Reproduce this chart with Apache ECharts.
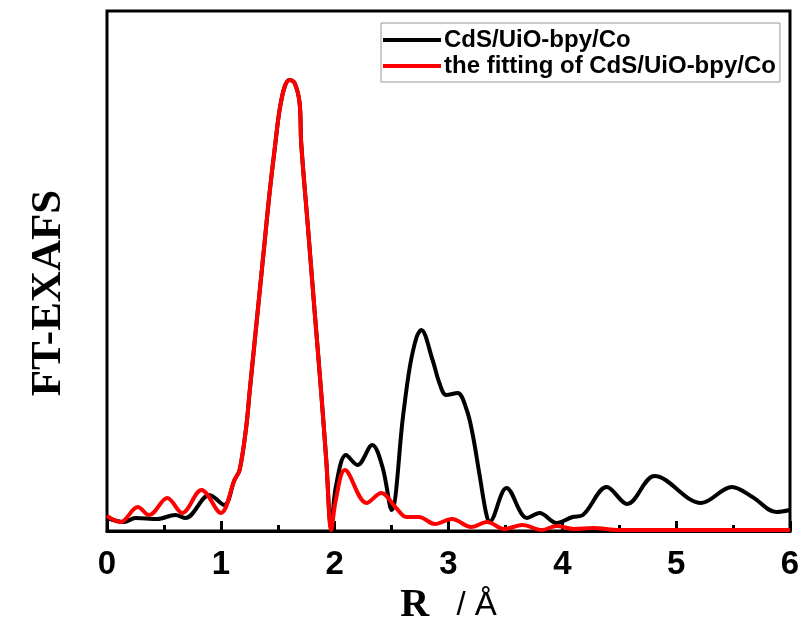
<!DOCTYPE html>
<html>
<head>
<meta charset="utf-8">
<script src="https://cdn.jsdelivr.net/npm/echarts@6/dist/echarts.min.js"></script>
<style>
  html, body { margin: 0; padding: 0; background: #fff; }
  #chart { width: 806px; height: 623px; }
</style>
</head>
<body>
<div id="chart"></div>
<script>
// R (Å) and FT-EXAFS magnitude (arb. units)
const expR = [0, 0.15, 0.25, 0.44, 0.6, 0.69, 0.9, 1.03, 1.12, 1.165, 1.223, 1.252, 1.296, 1.34, 1.384, 1.428, 1.472, 1.516, 1.56, 1.604, 1.648, 1.692, 1.706, 1.765, 1.823, 1.882, 1.926, 1.97,
  2.01, 2.1, 2.2, 2.33, 2.42, 2.5, 2.6, 2.66, 2.72, 2.76, 2.86, 2.92, 2.98, 3.08, 3.16, 3.21, 3.27, 3.33, 3.36, 3.51, 3.69, 3.8, 3.95, 4.09, 4.18, 4.39, 4.57, 4.81, 5.22, 5.49, 5.67, 5.88, 6.0];
const expY = [0.13, 0.09, 0.13, 0.12, 0.16, 0.13, 0.36, 0.26, 0.51, 0.61, 1.04, 1.38, 1.88, 2.38, 2.88, 3.38, 3.81, 4.21, 4.44, 4.51, 4.48, 4.28, 3.88, 3.04, 2.21, 1.38, 0.71, 0.03,
  0.44, 0.76, 0.66, 0.86, 0.64, 0.21, 1.14, 1.64, 1.94, 2.01, 1.71, 1.48, 1.36, 1.38, 1.21, 0.98, 0.58, 0.18, 0.09, 0.43, 0.13, 0.18, 0.08, 0.14, 0.16, 0.44, 0.27, 0.55, 0.28, 0.44, 0.34, 0.19, 0.21];

const fitR = [0, 0.12, 0.27, 0.37, 0.53, 0.66, 0.83, 1.0, 1.12, 1.165, 1.223, 1.252, 1.296, 1.34, 1.384, 1.428, 1.472, 1.516, 1.56, 1.604, 1.648, 1.692, 1.706, 1.765, 1.823, 1.882, 1.926, 1.97,
  2.01, 2.09, 2.28, 2.41, 2.54, 2.63, 2.74, 2.88, 3.03, 3.2, 3.34, 3.49, 3.65, 3.82, 3.95, 4.1, 4.27, 4.5, 5.0, 5.5, 6.0];
const fitY = [0.15, 0.09, 0.24, 0.16, 0.33, 0.18, 0.41, 0.18, 0.51, 0.61, 1.04, 1.38, 1.88, 2.38, 2.88, 3.38, 3.81, 4.21, 4.44, 4.51, 4.48, 4.28, 3.88, 3.04, 2.21, 1.38, 0.71, 0.01,
  0.31, 0.61, 0.28, 0.38, 0.23, 0.14, 0.14, 0.07, 0.12, 0.04, 0.09, 0.02, 0.06, 0.01, 0.05, 0.02, 0.03, 0.01, 0.01, 0.01, 0.01];

const seriesNames = ['CdS/UiO-bpy/Co', 'the fitting of CdS/UiO-bpy/Co'];
const xTicks = [0, 1, 2, 3, 4, 5, 6];

const zip = (xs, ys) => xs.map((x, i) => [x, ys[i]]);

const chart = echarts.init(document.getElementById('chart'));

chart.setOption({
  backgroundColor: '#fff',
  animation: false,
  grid: {
    left: 107, right: 16, top: 11, bottom: 92,
    outerBoundsMode: 'none',
    show: true, borderColor: '#000', borderWidth: 3
  },
  legend: {
    orient: 'vertical',
    left: 381, top: 23,
    padding: [5, 4, 4, 2],
    itemGap: 2,
    borderColor: '#999', borderWidth: 1,
    icon: 'rect', itemWidth: 58, itemHeight: 4, itemStyle: { borderWidth: 0 },
    textStyle: { fontFamily: 'Arial, "Liberation Sans"', fontWeight: 'bold', fontSize: 24, color: '#000', padding: [0, 0, 0, -2] },
    data: seriesNames
  },
  xAxis: {
    type: 'value',
    min: xTicks[0], max: xTicks[xTicks.length - 1], interval: 1,
    axisLine: { lineStyle: { color: '#000', width: 3 } },
    axisTick: { inside: true, length: 10, lineStyle: { color: '#000', width: 3 } },
    minorTick: { show: true, splitNumber: 2, length: 6, lineStyle: { color: '#000', width: 3 } },
    splitLine: { show: false },
    axisLabel: { fontFamily: 'Arial, "Liberation Sans"', fontWeight: 'bold', fontSize: 33, color: '#000', margin: 17 },
    name: '{r|R}{s|   / Å}',
    nameLocation: 'middle',
    nameGap: 53,
    nameTextStyle: {
      rich: {
        r: { fontFamily: '"Times New Roman", "Liberation Serif"', fontWeight: 'bold', fontSize: 40, color: '#000' },
        s: { fontFamily: 'Arial, "Liberation Sans"', fontSize: 33, color: '#000' }
      }
    }
  },
  yAxis: {
    type: 'value',
    min: 0, max: 5.2,
    axisLine: { show: false },
    axisTick: { show: false },
    axisLabel: { show: false },
    splitLine: { show: false }
  },
  graphic: [{
    type: 'text',
    x: 49, y: 293,
    rotation: Math.PI / 2,
    style: {
      text: 'FT-EXAFS',
      fontFamily: '"Times New Roman", "Liberation Serif"',
      fontWeight: 'bold', fontSize: 43, fill: '#000',
      align: 'center', verticalAlign: 'middle'
    }
  }],
  series: [
    {
      name: seriesNames[0], type: 'line', data: zip(expR, expY),
      smooth: 0.35, showSymbol: false,
      lineStyle: { color: '#000', width: 4 }, itemStyle: { color: '#000' }
    },
    {
      name: seriesNames[1], type: 'line', data: zip(fitR, fitY),
      smooth: 0.35, showSymbol: false,
      lineStyle: { color: '#f00', width: 4 }, itemStyle: { color: '#f00' }
    }
  ]
});
</script>
</body>
</html>
